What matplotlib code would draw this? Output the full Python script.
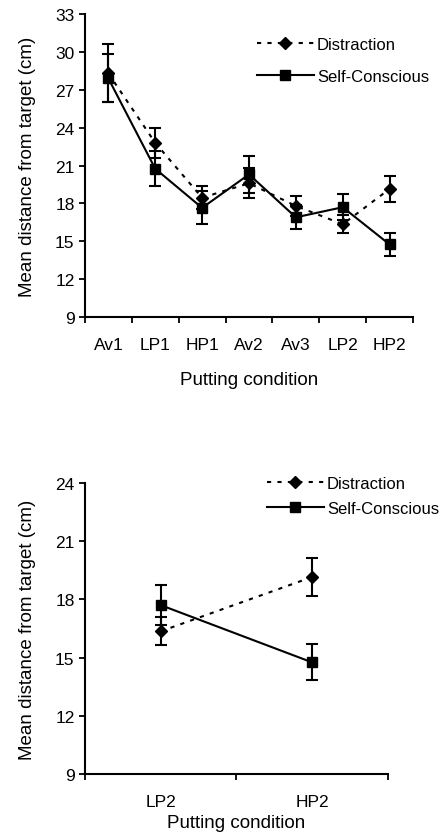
import matplotlib
matplotlib.use('Agg')
import matplotlib.pyplot as plt
import numpy as np

plt.rcParams['font.family'] = ['Liberation Sans', 'DejaVu Sans']

# data
conditions = ['Av1', 'LP1', 'HP1', 'Av2', 'Av3', 'LP2', 'HP2']
distraction = [28.3, 22.8, 18.45, 19.6, 17.8, 16.35, 19.15]
distraction_err = [2.3, 1.2, 0.9, 1.2, 0.8, 0.72, 1.0]
selfcon = [27.9, 20.75, 17.65, 20.3, 16.9, 17.7, 14.75]
selfcon_err = [1.9, 1.4, 1.3, 1.45, 0.95, 1.02, 0.93]

# second panel: last two conditions only
sub_conditions = ['LP2', 'HP2']

fig = plt.figure(figsize=(4.47, 8.37), dpi=100)
ax1 = fig.add_axes([0.190, 0.620, 0.734, 0.362])
ax2 = fig.add_axes([0.190, 0.074, 0.678, 0.348])


def draw(ax, cats, d, de, s, se, yticks):
    x = np.arange(len(cats))
    ax.errorbar(x, d, yerr=de, fmt='none', ecolor='black', capsize=4,
                capthick=1.5, elinewidth=1.5)
    ax.errorbar(x, s, yerr=se, fmt='none', ecolor='black', capsize=4,
                capthick=1.5, elinewidth=1.5)
    ax.plot(x, d, color='black', lw=1.5, linestyle=(0, (2, 3)),
            marker='D', ms=6, label='Distraction')
    ax.plot(x, s, color='black', lw=1.5, linestyle='-',
            marker='s', ms=7, label='Self-Conscious')
    ax.set_xlim(-0.5, len(cats) - 0.5)
    ax.set_ylim(yticks[0], yticks[-1])
    ax.set_yticks(yticks)
    # ticks between categories, labels under categories
    ax.set_xticks(np.arange(len(cats) + 1) - 0.5)
    ax.set_xticklabels([])
    ax.set_xticks(x, minor=True)
    ax.set_xticklabels(cats, minor=True, fontsize=12.5)
    ax.tick_params(axis='x', which='minor', length=0, pad=14)
    ax.tick_params(axis='x', which='major', direction='out', length=4, width=1.3)
    ax.tick_params(axis='y', direction='out', length=4, width=1.3, labelsize=12.5)
    for side in ['top', 'right']:
        ax.spines[side].set_visible(False)
    for side in ['left', 'bottom']:
        ax.spines[side].set_linewidth(1.5)
    ax.set_ylabel('Mean distance from target (cm)', fontsize=13.5, labelpad=14)
    ax.set_xlabel('Putting condition', fontsize=13.5)


draw(ax1, conditions, distraction, distraction_err, selfcon, selfcon_err,
     [9, 12, 15, 18, 21, 24, 27, 30, 33])
ax1.xaxis.labelpad = 14
ax1.legend(loc='upper left', bbox_to_anchor=(257 / 447, 1 - 38 / 837),
           bbox_transform=fig.transFigure, frameon=False, fontsize=12,
           handlelength=3.4, handletextpad=0.2, borderpad=0, borderaxespad=0,
           labelspacing=1.0)

idx = [conditions.index(c) for c in sub_conditions]
draw(ax2, sub_conditions,
     [distraction[i] for i in idx], [distraction_err[i] for i in idx],
     [selfcon[i] for i in idx], [selfcon_err[i] for i in idx],
     [9, 12, 15, 18, 21, 24])
ax2.xaxis.labelpad = 4
ax2.legend(loc='upper left', bbox_to_anchor=(267 / 447, 1 - 477 / 837),
           bbox_transform=fig.transFigure, frameon=False, fontsize=12,
           handlelength=3.4, handletextpad=0.2, borderpad=0, borderaxespad=0,
           labelspacing=0.6)

fig.savefig('out.png', dpi=100)
